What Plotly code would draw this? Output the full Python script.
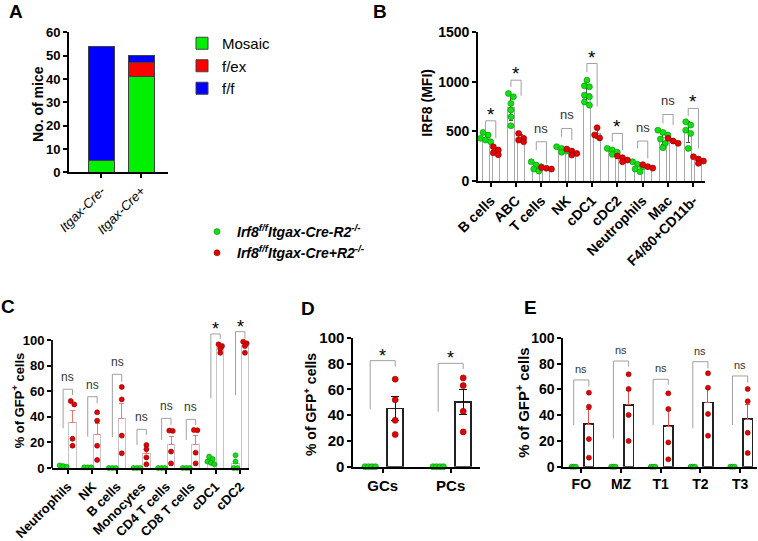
import numpy as np
import plotly.graph_objects as go

W, H = 758, 541
FONT = "Liberation Sans, Arial, sans-serif"

# ---------------- data ----------------
# Panel A: number of mice per genotype
a_genotypes = ["Itgax-Cre-", "Itgax-Cre+"]
a_mosaic = [5, 41]
a_fex = [0, 6]
a_ff = [49, 3]

# Panel B: IRF8 (MFI)
b_cells = ["B cells", "ABC", "T cells", "NK", "cDC1", "cDC2", "Neutrophils", "Mac", "F4/80+CD11b-"]
b_ctrl = [
    [490, 463, 430, 413, 396],
    [883, 849, 782, 715, 647, 557],
    [194, 161, 144, 121, 101],
    [346, 329, 302, 289],
    [1017, 960, 950, 866, 849, 798, 765],
    [329, 312, 289, 269],
    [194, 168, 144, 121, 94],
    [513, 490, 463, 423, 380, 336],
    [597, 564, 513, 480, 329],
]
b_ko = [
    [346, 312, 285, 265],
    [480, 430, 413, 396],
    [135, 128, 120],
    [322, 302, 278, 262],
    [537, 465, 435],
    [252, 235, 211, 194],
    [165, 145, 130],
    [430, 403, 380],
    [245, 221, 201, 178],
]
b_sig = ["*", "*", "ns", "ns", "*", "*", "ns", "ns", "*"]
b_bracket_top = [607, 1017, 396, 530, 1185, 480, 403, 671, 732]
b_bracket_left = [503, 950, 312, 446, 1100, 396, 329, 581, 658]
b_bracket_right = [430, 860, 175, 413, 750, 312, 228, 564, 329]

# Panel C: % of GFP+ cells
c_cells = ["Neutrophils", "NK", "B cells", "Monocytes", "CD4 T cells", "CD8 T cells", "cDC1", "cDC2"]
c_ctrl = [
    [2, 1.5, 1],
    [0.5, 0.5, 0.5],
    [0, 0, 0],
    [0, 0, 0],
    [0, 0, 0],
    [0, 0, 0],
    [8.9, 7, 5, 4, 3],
    [9.9, 5, 0, 0],
]
c_ko = [
    [52.3, 49.7, 22.9, 17.4],
    [43.5, 37, 17.4, 6.3],
    [63.3, 53.6, 25.3, 11.5],
    [18, 14.6, 8.3, 2.9],
    [29.2, 29, 12.8, 3.6],
    [29.7, 29.5, 12, 3.6],
    [96.6, 95.3, 93.2, 90],
    [98.7, 97.4, 95.3, 90],
]
c_sig = ["ns", "ns", "ns", "ns", "ns", "ns", "*", "*"]
c_bracket_top = [61.5, 55.7, 73.2, 30.2, 38.8, 38, 104.7, 106.5]
c_bracket_left = [31, 24.5, 24, 18, 21.9, 21.9, 54.4, 57]
c_bracket_right = [57, 50.5, 67.4, 25.8, 33.6, 33.6, 101, 101]

# Panel D
d_cells = ["GCs", "PCs"]
d_ctrl = [[0, 0, 0, 0], [0, 0, 0, 0]]
d_ko = [[68, 52, 36, 25], [69, 63, 43, 27]]
d_sig = ["*", "*"]
d_bracket_top = [82.4, 80.3]
d_bracket_left = [44.6, 42.7]
d_bracket_right = [77.7, 75.9]

# Panel E
e_cells = ["FO", "MZ", "T1", "T2", "T3"]
e_ctrl = [[0, 0, 0], [0, 0, 0], [0, 0, 0], [0, 0, 0], [0, 0, 0]]
e_ko = [
    [57.5, 46.6, 21.5, 7.0],
    [71.8, 60.4, 40.2, 20.0],
    [57.0, 44.8, 18.9, 5.7],
    [72.6, 61.4, 41.0, 24.1],
    [60.4, 50.8, 26.4, 10.6],
]
e_sig = ["ns", "ns", "ns", "ns", "ns"]
e_bracket_top = [67.4, 82.1, 67.9, 81.6, 70.5]
e_bracket_left = [32.4, 22, 32.4, 29.8, 32.4]
e_bracket_right = [62.2, 77.7, 63.6, 76.4, 65.3]

legend_ctrl = "<b><i>Irf8<sup>f/f</sup>Itgax-Cre-R2<sup>-/-</sup></i></b>"
legend_ko = "<b><i>Irf8<sup>f/f</sup>Itgax-Cre+R2<sup>-/-</sup></i></b>"

# ---------------- styles ----------------
GREEN, GREEN_EDGE = "#10e010", "#058a05"
RED, RED_EDGE = "#e80000", "#7a0000"

fig = go.Figure()


def dx_(l, r):
    return [l / W, r / W]


def dy_(b, t):
    return [1 - b / H, 1 - t / H]


def beeswarm(vals, ppu_y, ppu_x, sep):
    vals = np.asarray(vals, float)
    order = np.argsort(-vals)
    out = np.zeros(len(vals))
    rows = []
    for i in order:
        if rows and abs(vals[rows[-1][0]] - vals[i]) * ppu_y < sep:
            rows[-1].append(i)
        else:
            rows.append([i])
    for row in rows:
        m = len(row)
        for k, i in enumerate(row):
            out[i] = (k - (m - 1) / 2) * sep / ppu_x
    return out


def add_panel(n, cats, ctrl, ko, sig, btop, bleft, bright, st):
    xa, ya = "x%d" % n, "y%d" % n
    idx = np.arange(len(cats))
    off = st["off"] / st["dx"]
    bw = st["bw"] / st["dx"]
    groups = [
        (ctrl, -off, GREEN, GREEN_EDGE, st["cbar"], st["cerr"], st["cdir"], legend_ctrl),
        (ko, off, RED, RED_EDGE, st["kbar"], st["kerr"], st["kdir"], legend_ko),
    ]
    for data, o, col, edge, barline, errcol, errdir, name in groups:
        means = [float(np.mean(v)) for v in data]
        sds = [float(np.std(v, ddof=1)) for v in data]
        if st["err"] == "sd":
            errs = sds
        else:
            errs = [s / np.sqrt(len(v)) for s, v in zip(sds, data)]
        fig.add_trace(go.Bar(
            x=idx + o, y=means, width=bw, xaxis=xa, yaxis=ya,
            marker=dict(color="white", line=dict(color=barline, width=st["blw"])),
            error_y=dict(type="data", symmetric=False, array=errs,
                         arrayminus=errs if errdir == "both" else [0] * len(errs),
                         color=errcol, thickness=1, width=st["cap"]),
            showlegend=False, hoverinfo="skip"))
    for data, o, col, edge, barline, errcol, errdir, name in groups:
        px, py = [], []
        for i, v in enumerate(data):
            offs = beeswarm(v, st["ppu"], st["dx"], st["sep"])
            px += list(i + o + offs)
            py += list(v)
        fig.add_trace(go.Scatter(
            x=px, y=py, mode="markers", xaxis=xa, yaxis=ya, cliponaxis=False,
            marker=dict(size=st["ms"], color=col, line=dict(color=edge, width=0.6)),
            name=name, showlegend=st.get("legend", False), legend="legend2",
            hoverinfo="skip"))
    bx, by = [], []
    for i in idx:
        bx += [i - off, i - off, i + off, i + off, None]
        by += [bleft[i], btop[i], btop[i], bright[i], None]
    fig.add_trace(go.Scatter(x=bx, y=by, mode="lines", xaxis=xa, yaxis=ya,
                             line=dict(color="#a0a0a0", width=1),
                             showlegend=False, hoverinfo="skip"))
    for i in idx:
        if sig[i] == "*":
            fig.add_annotation(x=i, y=btop[i], xref=xa, yref=ya, text="*", showarrow=False,
                               yanchor="bottom", yshift=st["star_shift"],
                               font=dict(family=FONT, size=st["star_size"], color="black"))
        else:
            fig.add_annotation(x=i, y=btop[i], xref=xa, yref=ya, text="ns", showarrow=False,
                               yanchor="bottom", yshift=st["ns_shift"],
                               font=dict(family=FONT, size=st["ns_size"], color="#333333"))


# ---------------- Panel A ----------------
for name, vals, col in [("Mosaic", a_mosaic, "#00f000"), ("f/ex", a_fex, "#ff0000"), ("f/f", a_ff, "#0000ff")]:
    fig.add_trace(go.Bar(x=a_genotypes, y=vals, name=name, width=0.65, xaxis="x1", yaxis="y1",
                         marker=dict(color=col, line=dict(color="#404040", width=1)),
                         legend="legend", hoverinfo="skip"))

# ---------------- Panels B-E ----------------
stB = dict(dx=25.33, off=5.1, bw=7, ppu=149 / 1500, sep=5, ms=6, err="sd",
           cbar="#a8a8a8", kbar="#a8a8a8", blw=1, cerr="#555555", kerr="#555555",
           cdir="both", kdir="both", cap=2, star_shift=-6, star_size=19,
           ns_shift=4, ns_size=13, legend=True)
add_panel(2, b_cells, b_ctrl, b_ko, b_sig, b_bracket_top, b_bracket_left, b_bracket_right, stB)

stC = dict(dx=24.63, off=4.7, bw=7.4, ppu=1.28, sep=3.5, ms=5, err="sem",
           cbar="#c4c4c4", kbar="#c4c4c4", blw=1, cerr="#b0b0b0", kerr="#f07878",
           cdir="up", kdir="up", cap=2.5, star_shift=-7, star_size=18,
           ns_shift=3, ns_size=12)
add_panel(3, c_cells, c_ctrl, c_ko, c_sig, c_bracket_top, c_bracket_left, c_bracket_right, stC)

stD = dict(dx=68, off=12.5, bw=16, ppu=128.7 / 100, sep=3.5, ms=6, err="sem",
           cbar="#222222", kbar="#222222", blw=1.6, cerr="#111111", kerr="#111111",
           cdir="both", kdir="both", cap=4, star_shift=-7, star_size=18,
           ns_shift=3, ns_size=12)
add_panel(4, d_cells, d_ctrl, d_ko, d_sig, d_bracket_top, d_bracket_left, d_bracket_right, stD)

stE = dict(dx=39.7, off=7.6, bw=9.5, ppu=128.7 / 100, sep=2.2, ms=5, err="sem",
           cbar="#222222", kbar="#222222", blw=1.6, cerr="#e85050", kerr="#e85050",
           cdir="up", kdir="up", cap=2.5, star_shift=-7, star_size=18,
           ns_shift=3, ns_size=11)
add_panel(5, e_cells, e_ctrl, e_ko, e_sig, e_bracket_top, e_bracket_left, e_bracket_right, stE)

# ---------------- axes ----------------
def ax(**kw):
    d = dict(showline=True, linecolor="black", linewidth=1.8, ticks="outside", ticklen=4,
             tickwidth=1.8, tickcolor="black", showgrid=False, zeroline=False, fixedrange=True,
             automargin=False,
             tickfont=dict(family=FONT, size=13, color="black", weight="bold"))
    d.update(kw)
    return d


def cat_range(l, r, c0, dxp):
    return [(l - c0) / dxp, (r - c0) / dxp]


layout_axes = dict(
    xaxis1=ax(domain=dx_(69, 168.3), anchor="y1", range=[-0.807, 1.675], tickangle=-45,
              tickvals=a_genotypes, ticktext=["<i>%s</i>" % g for g in a_genotypes],
              tickfont=dict(family=FONT, size=13, color="black")),
    yaxis1=ax(domain=dy_(172.3, 32.3), anchor="x1", range=[0, 60], tickvals=list(range(0, 61, 10))),
    xaxis2=ax(domain=dx_(478, 705), anchor="y2", range=cat_range(478, 705, 490.7, 25.33),
              tickvals=list(range(len(b_cells))), ticktext=b_cells, tickangle=-45,
              tickfont=dict(family=FONT, size=14, color="black", weight="bold")),
    yaxis2=ax(domain=dy_(181, 32.3), anchor="x2", range=[0, 1500], tickvals=[0, 500, 1000, 1500],
              tickfont=dict(family=FONT, size=14, color="black", weight="bold")),
    xaxis3=ax(domain=dx_(52, 249), anchor="y3", range=cat_range(52, 249, 67.8, 24.63),
              tickvals=list(range(len(c_cells))), ticktext=c_cells, tickangle=-45,
              tickfont=dict(family=FONT, size=13, color="black", weight="bold")),
    yaxis3=ax(domain=dy_(468, 468 - 1.28 * 112), anchor="x3", range=[0, 112], showline=False,
              tickvals=list(range(0, 101, 20)),
              tickfont=dict(family=FONT, size=13, color="black", weight="bold")),
    xaxis4=ax(domain=dx_(353.3, 480), anchor="y4", range=cat_range(353.3, 480, 382.7, 68),
              tickvals=list(range(len(d_cells))), ticktext=d_cells,
              tickfont=dict(family=FONT, size=15, color="black", weight="bold")),
    yaxis4=ax(domain=dy_(466.7, 338), anchor="x4", range=[0, 100], tickvals=list(range(0, 101, 20)),
              tickfont=dict(family=FONT, size=15, color="black", weight="bold")),
    xaxis5=ax(domain=dx_(563.3, 756.7), anchor="y5", range=cat_range(563.3, 756.7, 581.3, 39.7),
              tickvals=list(range(len(e_cells))), ticktext=e_cells,
              tickfont=dict(family=FONT, size=14, color="black", weight="bold")),
    yaxis5=ax(domain=dy_(466.7, 338), anchor="x5", range=[0, 100], tickvals=list(range(0, 101, 20)),
              tickfont=dict(family=FONT, size=14, color="black", weight="bold")),
)

fig.add_shape(type="line", xref="x3 domain", yref="y3", x0=0, x1=0, y0=0, y1=100,
              line=dict(color="black", width=1.8))

# panel letters
for letter, (px, py) in {"A": (15.5, 11), "B": (380.5, 11), "C": (7.5, 306.5),
                         "D": (307.5, 308), "E": (530, 307.5)}.items():
    fig.add_annotation(x=px / W, y=1 - py / H, xref="paper", yref="paper", text="<b>%s</b>" % letter,
                       showarrow=False, xanchor="center", yanchor="middle",
                       font=dict(family=FONT, size=19, color="black"))

# y-axis titles
for txt, (px, py), size in [("No. of mice", (38, 104), 14), ("IRF8 (MFI)", (426.7, 103), 14),
                            ("% of GFP<sup>+</sup> cells", (18.3, 400), 13),
                            ("% of GFP<sup>+</sup> cells", (310, 405), 14),
                            ("% of GFP<sup>+</sup> cells", (521.7, 403), 15)]:
    fig.add_annotation(x=px / W, y=1 - py / H, xref="paper", yref="paper", text="<b>%s</b>" % txt,
                       showarrow=False, textangle=-90, xanchor="center", yanchor="middle",
                       font=dict(family=FONT, size=size, color="black"))

fig.update_layout(
    width=W, height=H, margin=dict(l=0, r=0, t=0, b=0, autoexpand=False),
    paper_bgcolor="white", plot_bgcolor="white", barmode="stack", hovermode=False,
    font=dict(family=FONT, color="black"),
    legend=dict(x=182 / W, y=1 - 27 / H, xanchor="left", yanchor="top", traceorder="normal",
                bgcolor="rgba(0,0,0,0)", font=dict(family=FONT, size=15, color="black"),
                itemclick=False, itemdoubleclick=False),
    legend2=dict(x=197 / W, y=1 - 216 / H, xanchor="left", yanchor="top", traceorder="normal",
                 bgcolor="rgba(0,0,0,0)", font=dict(family=FONT, size=14, color="black"),
                 itemclick=False, itemdoubleclick=False),
    **layout_axes,
)

fig.write_html("out.html")
